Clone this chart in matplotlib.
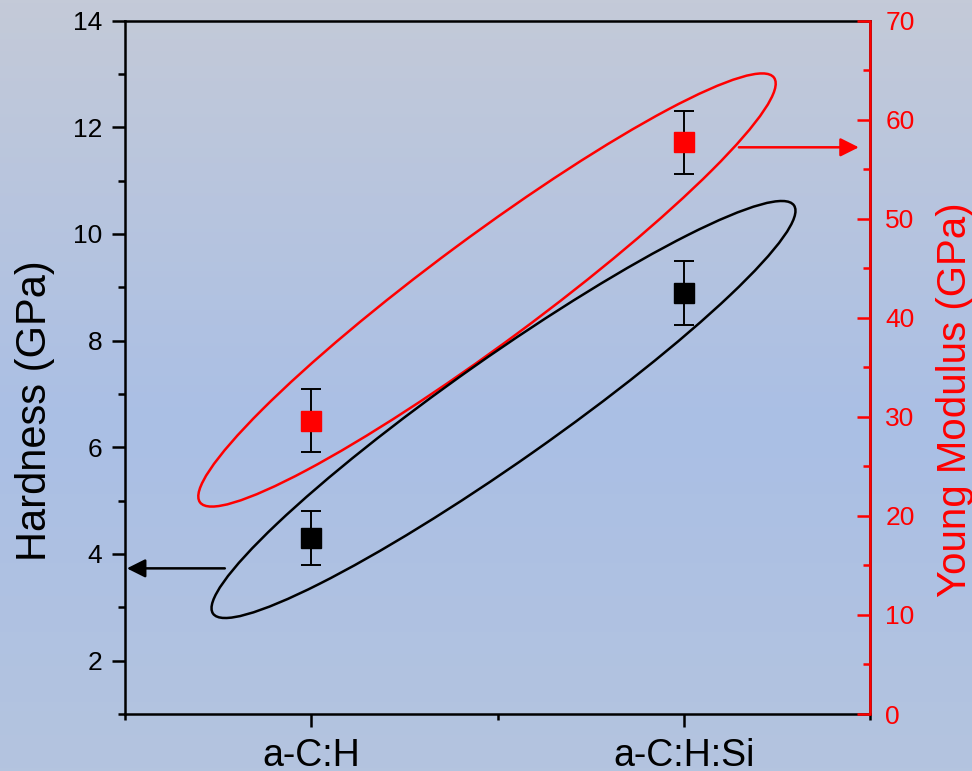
import matplotlib
matplotlib.use("Agg")

import matplotlib.pyplot as plt
import numpy as np
from matplotlib.colors import LinearSegmentedColormap
from matplotlib.patches import Ellipse
from matplotlib.ticker import FixedLocator, MultipleLocator
from matplotlib.transforms import Affine2D

plt.rcParams["font.family"] = ["Liberation Sans", "DejaVu Sans"]

# data
samples = ["a-C:H", "a-C:H:Si"]
positions = [1, 2]
hardness = [4.3, 8.9]
hardness_err = [0.5, 0.6]
modulus = [29.6, 57.7]
modulus_err = [3.2, 3.2]

# arrows point at these values on each axis
hardness_arrow_y = 3.73
modulus_arrow_y = 57.2

W, H, DPI = 972, 771, 100
AX_L, AX_R, AX_T, AX_B = 125, 870, 20.5, 714
ax_w = AX_R - AX_L
ax_h = AX_B - AX_T

fig = plt.figure(figsize=(W / DPI, H / DPI), dpi=DPI)

# background gradient
bg = fig.add_axes([0, 0, 1, 1], zorder=-10)
cmap = LinearSegmentedColormap.from_list(
    "bg", [(0.0, "#C4CAD8"), (0.55, "#AABFE5"), (1.0, "#B4C4DF")]
)
bg.imshow(np.linspace(0, 1, 256).reshape(-1, 1), aspect="auto", cmap=cmap,
          extent=[0, 1, 0, 1])
bg.axis("off")

ax = fig.add_axes([AX_L / W, (H - AX_B) / H, ax_w / W, ax_h / H])
ax.patch.set_alpha(0)
ax2 = ax.twinx()
ax2.patch.set_alpha(0)

ax.errorbar(positions, hardness, yerr=hardness_err, fmt="s", color="black",
            ecolor="black", markersize=14.4, elinewidth=1.4, capsize=7.2,
            capthick=1.4, zorder=5)
ax2.errorbar(positions, modulus, yerr=modulus_err, fmt="s", color="red",
             mec="red", ecolor="black", markersize=14.4, elinewidth=1.4,
             capsize=7.2, capthick=1.4, zorder=5)

ax.set_xlim(0.5, 2.5)
ax.set_ylim(1, 14)
ax2.set_ylim(0, 70)

ax.xaxis.set_major_locator(FixedLocator(positions))
ax.set_xticklabels(samples)
ax.xaxis.set_minor_locator(FixedLocator([0.5, 1.5, 2.5]))
ax.yaxis.set_major_locator(FixedLocator([2, 4, 6, 8, 10, 12, 14]))
ax.yaxis.set_minor_locator(MultipleLocator(1))
ax2.yaxis.set_major_locator(MultipleLocator(10))
ax2.yaxis.set_minor_locator(MultipleLocator(5))

ax.tick_params(axis="y", which="major", direction="out", length=9.4, width=1.8,
               labelsize=19, pad=7)
ax.tick_params(axis="y", which="minor", direction="out", length=5, width=1.8)
ax.tick_params(axis="x", which="major", direction="out", length=9.4, width=1.8,
               labelsize=27, pad=8, top=False)
ax.tick_params(axis="x", which="minor", direction="out", length=4.5, width=1.8,
               top=False)
ax2.tick_params(axis="y", which="major", direction="in", length=9.4, width=1.8,
                labelsize=19, pad=11, colors="red")
ax2.tick_params(axis="y", which="minor", direction="in", length=5, width=1.8,
                colors="red")

for a in (ax, ax2):
    for s in a.spines.values():
        s.set_linewidth(1.8)
ax2.spines["right"].set_color("red")
ax2.spines["left"].set_visible(False)
ax2.spines["top"].set_visible(False)
ax2.spines["bottom"].set_visible(False)

ax.set_ylabel("Hardness (GPa)", fontsize=30)
ax.yaxis.set_label_coords(-0.094, 0.438)
ax2.set_ylabel("Young Modulus (GPa)", fontsize=29, color="red")
ax2.yaxis.set_label_coords(1.088, 0.453)

# ellipses, given in pixels relative to the axes lower-left corner
px = Affine2D().scale(1 / ax_w, 1 / ax_h) + ax.transAxes
ax.add_patch(Ellipse((487 - AX_L, AX_B - 290), 2 * 357, 2 * 53,
                     angle=36.5, transform=px, fill=False, ec="red", lw=1.8,
                     zorder=3))
ax.add_patch(Ellipse((503.5 - AX_L, AX_B - 409.5), 2 * 355, 2 * 52,
                     angle=35.1, transform=px, fill=False, ec="black", lw=1.8,
                     zorder=3))

ax.annotate("", xy=(0.505, hardness_arrow_y), xytext=(0.768, hardness_arrow_y),
            arrowprops=dict(arrowstyle="-|>", color="black", lw=1.8,
                            mutation_scale=28, shrinkA=0, shrinkB=0))
ax2.annotate("", xy=(2.47, modulus_arrow_y), xytext=(2.148, modulus_arrow_y),
             arrowprops=dict(arrowstyle="-|>", color="red", lw=1.8,
                             mutation_scale=28, shrinkA=0, shrinkB=0))

fig.savefig("out.png", dpi=DPI)
